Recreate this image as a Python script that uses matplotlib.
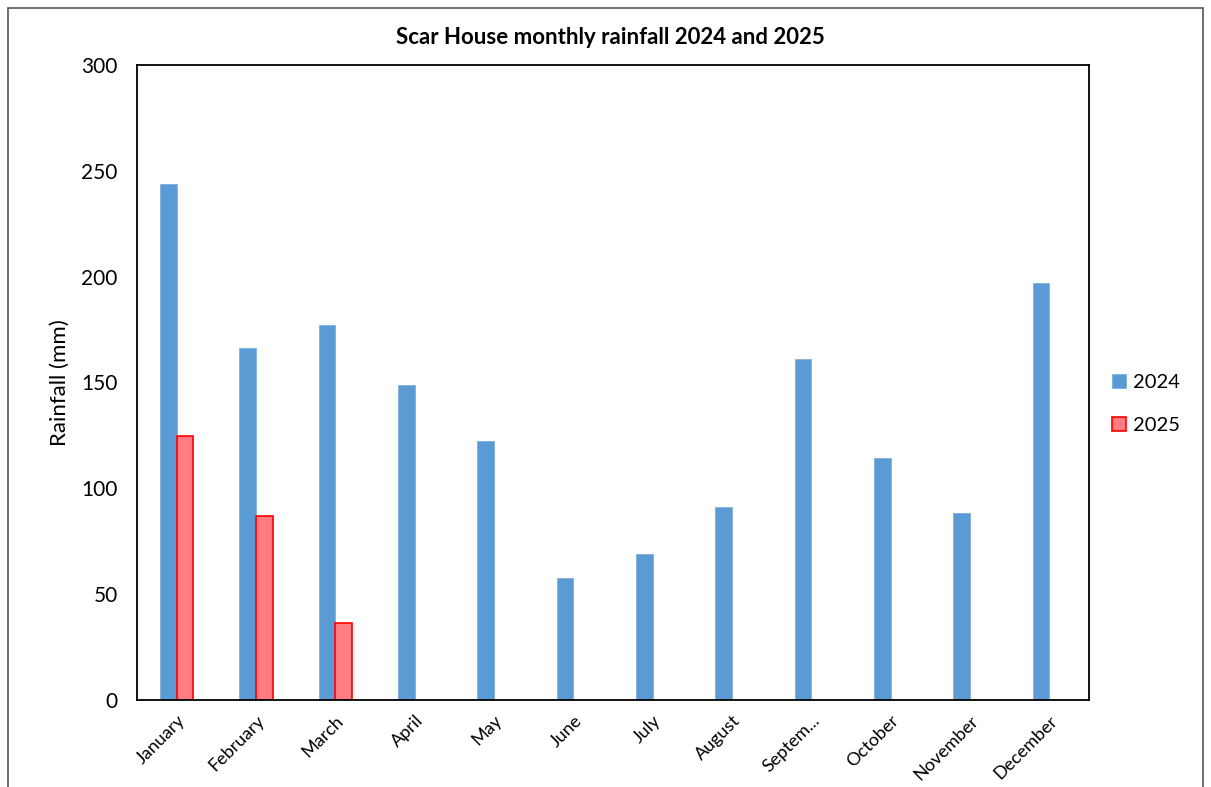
import numpy as np
import matplotlib.pyplot as plt
from matplotlib.patches import Rectangle

months = ["January", "February", "March", "April", "May", "June", "July",
          "August", "Septem...", "October", "November", "December"]
rain_2024 = [244, 166.5, 177, 148.8, 122.3, 57.6, 69, 91.2, 161.1, 114.3, 88.3, 197.1]
rain_2025 = [124.5, 86.7, 36.2]

plt.rcParams['font.family'] = ['Lato', 'DejaVu Sans']

fig = plt.figure(figsize=(12.11, 7.87), dpi=100)
ax = fig.add_axes([137/1211, 87/787, 952/1211, 635/787])

x = np.arange(len(months))
w = 0.21
b1 = ax.bar(x - w/2, rain_2024, w, color="#5B9BD5", edgecolor="#7FB0DD", linewidth=0.6, label="2024")
b2 = ax.bar(x[:len(rain_2025)] + w/2, rain_2025, w, color="#FF7C80", edgecolor="#FF0000", linewidth=1.2, label="2025")

ax.set_xlim(-0.5, len(months) - 0.5)
ax.set_ylim(0, 300)
ax.set_yticks(range(0, 301, 50))
ax.set_xticks(x)
ax.set_xticklabels(months, rotation=45, ha='right', rotation_mode='anchor')
ax.tick_params(axis='both', length=0)
ax.tick_params(axis='x', labelsize=13, pad=9)
ax.tick_params(axis='y', labelsize=15, pad=14)
for s in ax.spines.values():
    s.set_linewidth(1.3)
    s.set_color("black")

ax.set_ylabel("Rainfall (mm)", fontsize=16, labelpad=8)
fig.text(610/1211, 1 - 38/787, "Scar House monthly rainfall 2024 and 2025",
         ha='center', va='center', fontsize=16, fontweight='bold')

fig.legend(handles=[b1, b2], loc='center left', bbox_to_anchor=(1094/1211, 1 - 404/787),
           frameon=False, fontsize=14.5, handlelength=0.7, handleheight=0.7,
           handletextpad=0.35, labelspacing=1.3)

fig.patches.append(Rectangle((8/1211, -0.01), 1195/1211, 1 - 8/787 + 0.01,
                             transform=fig.transFigure, fill=False,
                             edgecolor="#555555", linewidth=1.2))

fig.savefig("out.png", dpi=100)
